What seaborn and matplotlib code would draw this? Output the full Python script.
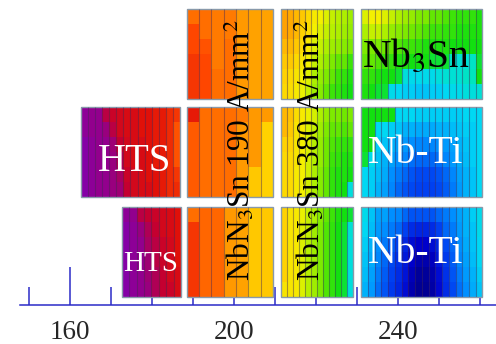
import numpy as np
import matplotlib
matplotlib.use("Agg")
import matplotlib.pyplot as plt
from matplotlib.colors import LinearSegmentedColormap
from matplotlib.patches import Rectangle
import seaborn as sns

# Field-like scale 0..100 per cable strip; each list row = one vertical cell (top -> bottom)
hts_mid = [
    [98, 97, 97, 92, 90, 89, 88, 88, 87, 87, 86, 86, 85, 84],
    [98, 97, 97, 96, 92, 89, 88, 88, 87, 87, 86, 86, 85, 82],
    [99, 98, 97, 97, 95, 91, 89, 88, 88, 87, 86, 86, 85, 82],
    [99, 98, 97, 97, 96, 93, 89, 88, 88, 87, 86, 86, 85, 82],
    [99, 98, 97, 97, 96, 94, 90, 89, 88, 87, 87, 86, 85, 84],
    [99, 98, 97, 97, 96, 95, 91, 89, 88, 88, 87, 86, 85, 85],
]
hts_bot = [
    [98, 97, 92, 91, 90, 89, 88, 87],
    [99, 98, 96, 93, 91, 89, 88, 87],
    [99, 98, 97, 94, 92, 90, 89, 87],
    [99, 98, 97, 95, 92, 90, 89, 87],
    [99, 98, 97, 95, 93, 91, 89, 88],
    [99, 98, 97, 96, 93, 91, 90, 88],
]
nbn3sn190_top = [
    [79, 79, 78, 78, 74, 73, 73],
    [83, 79, 78, 78, 74, 73, 73],
    [83, 82, 78, 79, 74, 73, 73],
    [84, 83, 78, 79, 74, 73, 73],
    [84, 83, 79, 79, 74, 73, 73],
    [84, 83, 79, 79, 74, 73, 73],
]
nbn3sn190_mid = [
    [86, 79, 79, 79, 78, 74, 74],
    [81, 79, 79, 79, 74, 74, 67],
    [81, 79, 79, 79, 74, 74, 67],
    [81, 79, 79, 79, 74, 74, 67],
    [81, 79, 79, 79, 74, 68, 67],
    [81, 79, 79, 79, 74, 68, 67],
]
nbn3sn190_bot = [
    [79, 80, 80, 74, 73, 68, 68],
    [84, 80, 80, 74, 73, 68, 68],
    [84, 80, 80, 74, 73, 68, 68],
    [84, 80, 80, 74, 73, 68, 68],
    [84, 80, 80, 74, 73, 68, 68],
    [84, 80, 80, 74, 73, 68, 68],
]
nbn3sn380_top = [
    [73, 72, 70, 68, 66, 63, 62, 60, 58, 57, 56, 55],
    [73, 72, 70, 67, 65, 62, 60, 58, 57, 56, 55, 54],
    [70, 70, 68, 66, 63, 60, 58, 56, 55, 54, 53, 52],
    [68, 68, 66, 64, 62, 58, 56, 54, 52, 50, 50, 48],
    [67, 66, 64, 62, 60, 56, 54, 52, 50, 48, 47, 46],
    [66, 65, 63, 61, 58, 55, 53, 50, 48, 47, 46, 45],
]
nbn3sn380_mid = [
    [70, 69, 65, 63, 61, 59, 56, 54, 52, 52, 51, 52],
    [70, 68, 64, 63, 60, 58, 55, 52, 50, 50, 49, 50],
    [67, 67, 64, 62, 60, 57, 54, 51, 49, 48, 47, 47],
    [66, 66, 64, 62, 59, 57, 54, 51, 48, 47, 46, 46],
    [66, 66, 63, 62, 59, 56, 53, 50, 47, 46, 46, 45],
    [66, 66, 63, 62, 59, 56, 53, 50, 47, 46, 45, 36],
]
nbn3sn380_bot = [
    [67, 64, 63, 61, 58, 56, 53, 50, 48, 46, 45, 44],
    [67, 64, 63, 60, 58, 55, 52, 49, 47, 45, 44, 37],
    [67, 64, 63, 60, 57, 55, 52, 49, 47, 45, 44, 36],
    [67, 64, 63, 60, 57, 55, 52, 49, 47, 45, 44, 36],
    [67, 64, 63, 60, 57, 55, 52, 49, 47, 45, 44, 36],
    [64, 64, 63, 60, 57, 55, 52, 49, 47, 45, 44, 36],
]
nb3sn_top = [
    [60, 62, 62, 60, 58, 56, 55, 54, 52, 52, 50, 50, 49, 48, 47, 47, 47, 46],
    [56, 58, 58, 56, 54, 53, 52, 51, 50, 49, 48, 48, 47, 47, 46, 46, 46, 46],
    [52, 52, 52, 51, 50, 49, 48, 48, 47, 46, 46, 46, 46, 45, 45, 45, 45, 45],
    [50, 50, 49, 48, 47, 46, 46, 45, 45, 45, 44, 44, 44, 38, 37, 37, 38, 44],
    [47, 47, 46, 45, 45, 44, 36, 35, 35, 35, 35, 36, 37, 37, 37, 38, 39, 45],
    [46, 45, 44, 44, 35, 34, 33, 33, 32, 32, 33, 33, 34, 35, 35, 36, 36, 37],
]
nbti_mid = [
    [45, 45, 45, 45, 45, 34, 34, 34, 33, 33, 33, 33, 33, 33, 33, 34, 34, 34],
    [45, 45, 34, 34, 33, 32, 30, 30, 29, 29, 29, 30, 30, 31, 32, 33, 33, 34],
    [45, 45, 33, 32, 30, 28, 27, 26, 25, 25, 25, 26, 27, 28, 30, 32, 33, 34],
    [44, 35, 32, 30, 28, 26, 25, 23, 22, 22, 22, 23, 25, 27, 29, 31, 33, 34],
    [34, 33, 31, 29, 26, 24, 22, 20, 19, 19, 19, 20, 22, 25, 28, 30, 32, 34],
    [34, 33, 30, 28, 25, 22, 20, 19, 18, 18, 18, 19, 21, 24, 27, 30, 32, 34],
]
nbti_bot = [
    [35, 32, 28, 28, 26, 25, 22, 20, 20, 20, 20, 22, 24, 26, 28, 30, 33, 35],
    [34, 31, 27, 26, 24, 22, 18, 15, 14, 14, 15, 18, 22, 24, 27, 30, 32, 35],
    [33, 30, 26, 24, 21, 18, 14, 10, 8, 8, 10, 14, 19, 22, 26, 29, 32, 34],
    [32, 29, 25, 22, 19, 16, 12, 8, 5, 5, 7, 12, 17, 21, 25, 28, 31, 34],
    [31, 28, 24, 21, 18, 15, 11, 6, 3, 3, 5, 10, 16, 20, 24, 27, 30, 33],
    [30, 27, 23, 20, 17, 14, 10, 5, 2, 2, 4, 9, 15, 19, 23, 26, 29, 32],
]
tick_labels = ["160", "200", "240"]
tick_values = [160, 200, 240]

sns.set_style("white")
plt.rcParams['font.family'] = ['Liberation Serif', 'DejaVu Serif']
plt.rcParams['mathtext.fontset'] = 'stix'

cmap = LinearSegmentedColormap.from_list("field", [
    (0.00, '#000080'), (0.08, '#0000cc'), (0.18, '#0040f0'), (0.26, '#0090ff'),
    (0.34, '#00d8f4'), (0.40, '#00e8b0'), (0.45, '#10e010'), (0.51, '#70e800'),
    (0.57, '#b8f000'), (0.62, '#f4f000'), (0.67, '#ffd200'), (0.72, '#ffaa00'),
    (0.78, '#ff7a00'), (0.83, '#ff4800'), (0.87, '#e01008'), (0.91, '#c40030'),
    (0.95, '#a00070'), (1.00, '#8000b0')])

fig = plt.figure(figsize=(4.96, 3.44), dpi=100)
ax = fig.add_axes([20/496, 39/344, 476/496, 305/344])
ax.set_xlim(147.8, 263.9)
ax.set_ylim(0, 3.389)

row_base = [0.09, 1.2, 2.29]
blocks = [
    (hts_mid, 162.7, 186.8, 1), (hts_bot, 172.6, 187.1, 0),
    (nbn3sn190_top, 188.5, 209.5, 2), (nbn3sn190_mid, 188.5, 209.5, 1), (nbn3sn190_bot, 188.5, 209.5, 0),
    (nbn3sn380_top, 211.5, 229.1, 2), (nbn3sn380_mid, 211.5, 229.1, 1), (nbn3sn380_bot, 211.5, 229.1, 0),
    (nb3sn_top, 231.0, 260.6, 2), (nbti_mid, 231.0, 260.6, 1), (nbti_bot, 231.0, 260.6, 0),
]
for data, x0, x1, row in blocks:
    arr = np.array(data, dtype=float)
    iax = ax.inset_axes([x0, row_base[row], x1 - x0, 1.0], transform=ax.transData, zorder=5)
    sns.heatmap(arr, ax=iax, cmap=cmap, vmin=0, vmax=100, cbar=False,
                xticklabels=False, yticklabels=False)
    nr, nc = arr.shape
    iax.vlines(np.arange(1, nc), 0, nr, colors=[(0.25, 0.15, 0.35)], alpha=0.45, lw=0.8)
    iax.set_axis_off()
    iax.add_patch(Rectangle((0, 0), nc, nr, fill=False, ec='#8899aa', lw=1.0, clip_on=False))

white_txt = dict(color='white', ha='center', va='baseline', zorder=10)
ax.text(175.85, 1.489, "HTS", fontsize=28, **white_txt)
ax.text(179.6, 0.378, "HTS", fontsize=21, **white_txt)
ax.text(244.4, 1.578, "Nb-Ti", fontsize=28.5, **white_txt)
ax.text(244.4, 0.467, "Nb-Ti", fontsize=28.5, **white_txt)
ax.text(244.5, 2.644, "Nb$_3$Sn", fontsize=28.5, color='black', ha='center', va='baseline', zorder=10)
rot = dict(rotation=90, rotation_mode='anchor', ha='left', va='baseline', fontsize=22.5, color='black', zorder=10)
ax.text(203.9, 0.267, "NbN$_3$Sn 190 A/mm$^2$", **rot)
ax.text(221.0, 0.267, "NbN$_3$Sn 380 A/mm$^2$", **rot)

blue = '#2b2bc8'
ax.set_xticks(tick_values)
ax.set_xticklabels(tick_labels)
ax.set_xticks(np.arange(150, 261, 10), minor=True)
ax.tick_params(axis='x', which='major', direction='in', length=27.4, width=1.1,
               color=blue, labelsize=19.5, pad=11, bottom=True)
ax.tick_params(axis='x', which='minor', direction='in', length=13, width=1.1,
               color=blue, bottom=True)
ax.set_yticks([])
for s in ['left', 'top', 'right']:
    ax.spines[s].set_visible(False)
ax.spines['bottom'].set_color(blue)
ax.spines['bottom'].set_linewidth(1.1)

fig.savefig("out.png", dpi=100)
